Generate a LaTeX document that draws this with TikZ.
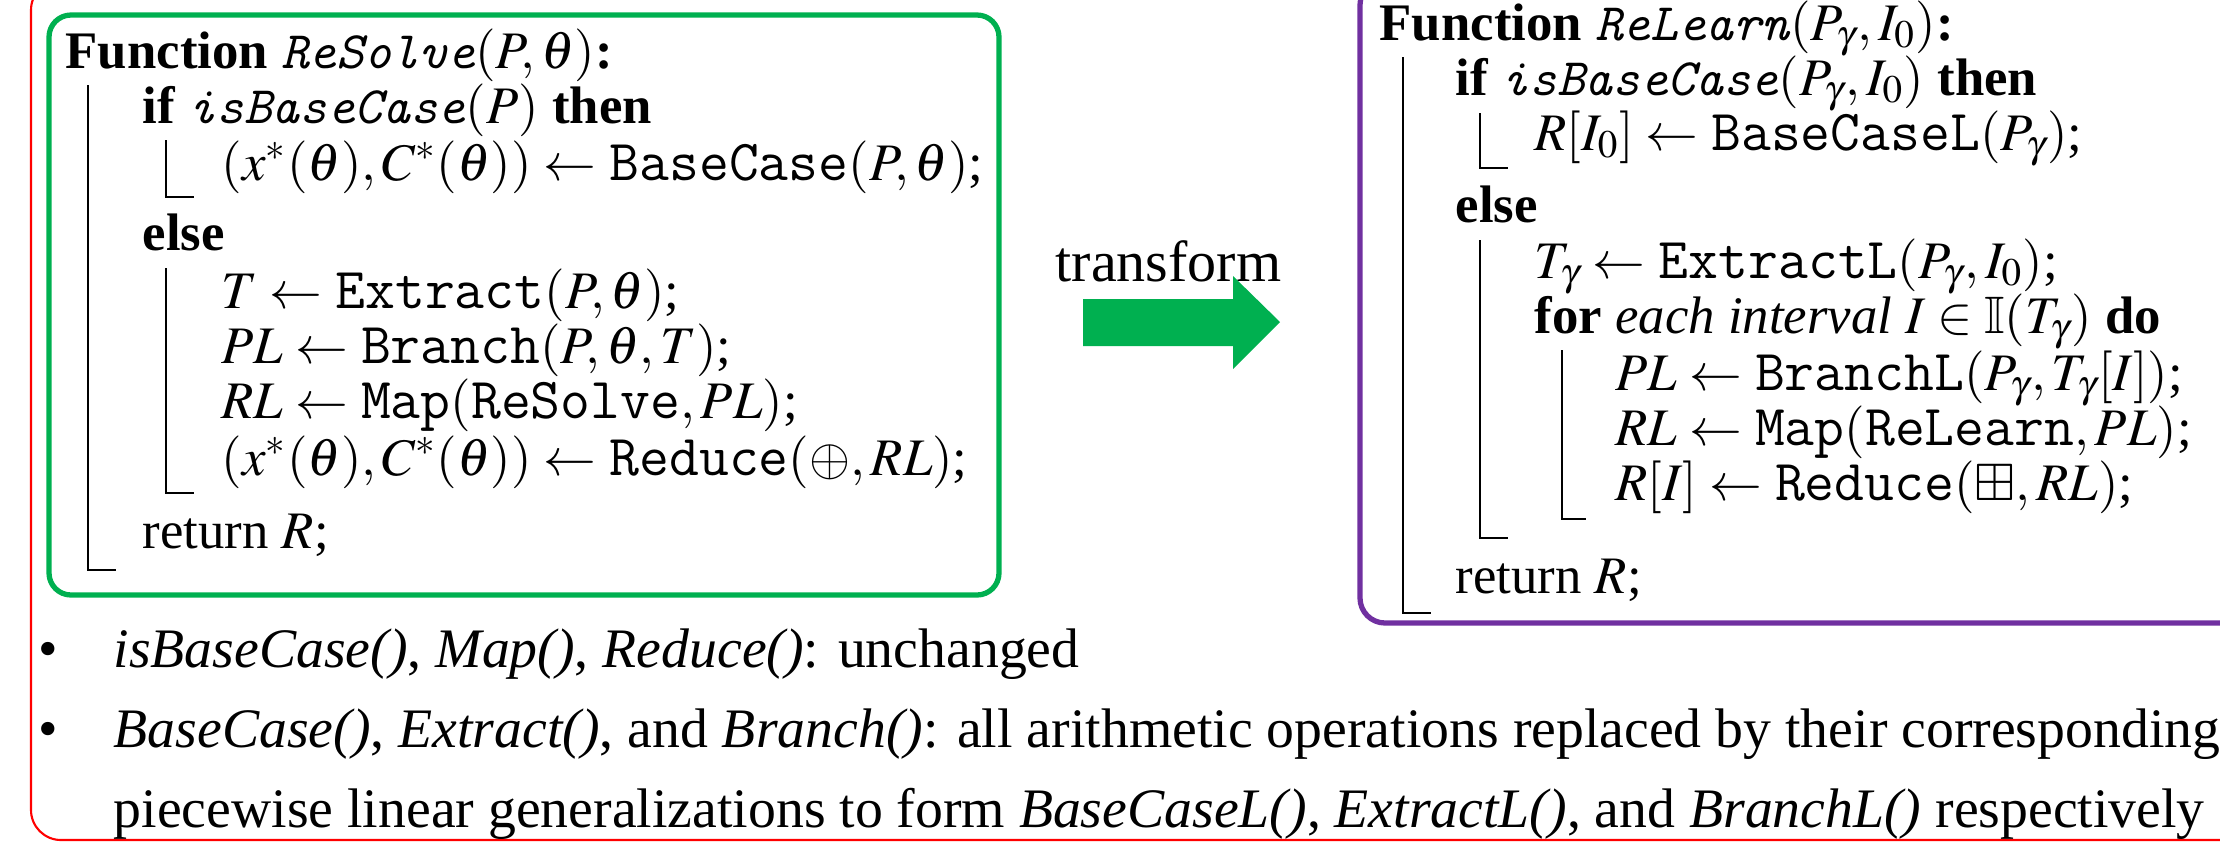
\documentclass[tikz,border=0pt]{standalone}
\usepackage{amssymb}
\usepackage{mathptmx}
\usepackage{fontspec}
\setmainfont{Liberation Serif}
\usetikzlibrary{calc}
\definecolor{pptgreen}{HTML}{00B050}
\definecolor{pptpurple}{HTML}{7030A0}
\tikzset{
         algline/.style={anchor=base west,inner sep=0pt,text height=10pt,text depth=3pt,font=\fontsize{15}{18}\selectfont},
         bulline/.style={anchor=base west,inner sep=0pt,font=\fontsize{15.85}{19}\selectfont},
         blockbar/.style={draw=black,line width=0.6pt}
        }
\newcommand{\kw}[1]{\textbf{#1}}
\newcommand{\fn}[1]{{\fontsize{16.5}{18}\selectfont\texttt{#1}}}
\newcommand{\fni}[1]{\texttt{\itshape #1}}

\begin{document}
\begin{tikzpicture}[x=0.01cm,y=-0.01cm]
\useasboundingbox (0,0) rectangle (2220,844);
%frames
\draw[red,line width=0.6pt,rounded corners=0.3cm](31,-20)rectangle(2280,840);
\draw[pptgreen,line width=1.5pt,rounded corners=0.22cm](49,15)rectangle(999,595);
\draw[pptpurple,line width=1.5pt,rounded corners=0.25cm](1360,-20)rectangle(2280,623);
%ReSolve
\node[algline] (rsHead) at (65,68) {\kw{Function} \fni{ReSolve}$(P,\theta)$\kw{:}};
\node[algline] (rsIf) at (142,123) {\kw{if} \fni{isBaseCase}$(P)$ \kw{then}};
\node[algline] (rsBase) at (221,180) {$(x^*(\theta),C^*(\theta))\leftarrow$ \fn{BaseCase}$(P,\theta)$;};
\node[algline] (rsElse) at (142,250) {\kw{else}};
\node[algline] (rsExt) at (221,308) {$T\leftarrow$ \fn{Extract}$(P,\theta)$;};
\node[algline] (rsBr) at (221,363) {$PL\leftarrow$ \fn{Branch}$(P,\theta,T)$;};
\node[algline] (rsMap) at (221,418) {$RL\leftarrow$ \fn{Map}$($\fn{ReSolve}$,PL)$;};
\node[algline] (rsRed) at (221,475) {$(x^*(\theta),C^*(\theta))\leftarrow$ \fn{Reduce}$(\oplus,RL)$;};
\node[algline] (rsRet) at (142,548) {return $R$;};
\draw[blockbar](88,85)--(88,570)--(116,570);
\draw[blockbar](166,140)--(166,197)--(194,197);
\draw[blockbar](166,268)--(166,493)--(194,493);
%transform
\node[anchor=base west,inner sep=0pt,font=\fontsize{16.5}{19}\selectfont] (trans) at (1055,281) {transform};
\fill[pptgreen](1083,299)--(1233,299)--(1233,276)--(1280,322)--(1233,369)--(1233,346)--(1083,346)--cycle;
%ReLearn
\node[algline] (rlHead) at (1379,40) {\kw{Function} \fni{ReLearn}$(P_\gamma,I_0)$\kw{:}};
\node[algline] (rlIf) at (1455,95) {\kw{if} \fni{isBaseCase}$(P_\gamma,I_0)$ \kw{then}};
\node[algline] (rlBase) at (1534,150) {$R[I_0]\leftarrow$ \fn{BaseCaseL}$(P_\gamma)$;};
\node[algline] (rlElse) at (1455,222) {\kw{else}};
\node[algline] (rlExt) at (1534,278) {$T_\gamma\leftarrow$ \fn{ExtractL}$(P_\gamma,I_0)$;};
\node[algline] (rlFor) at (1534,333) {\kw{for} \textit{each interval} $I\in\mathbb{I}(T_\gamma)$ \kw{do}};
\node[algline] (rlBr) at (1615,390) {$PL\leftarrow$ \fn{BranchL}$(P_\gamma,T_\gamma[I])$;};
\node[algline] (rlMap) at (1615,445) {$RL\leftarrow$ \fn{Map}$($\fn{ReLearn}$,PL)$;};
\node[algline] (rlRed) at (1615,500) {$R[I]\leftarrow$ \fn{Reduce}$(\boxplus,RL)$;};
\node[algline] (rlRet) at (1455,593) {return $R$;};
\draw[blockbar](1403,57)--(1403,613)--(1431,613);
\draw[blockbar](1480,113)--(1480,168)--(1508,168);
\draw[blockbar](1480,240)--(1480,538)--(1508,538);
\draw[blockbar](1562,350)--(1562,519)--(1586,519);
%notes
\node[bulline] (dotA) at (38,667) {•};
\node[bulline] (noteA) at (113,667) {\textit{isBaseCase()}, \textit{Map()}, \textit{Reduce()}: unchanged};
\node[bulline] (dotB) at (38,747) {•};
\node[bulline] (noteB) at (113,747) {\textit{BaseCase()}, \textit{Extract()}, and \textit{Branch()}: all arithmetic operations replaced by their corresponding};
\node[bulline] (noteC) at (113,827) {piecewise linear generalizations to form \textit{BaseCaseL()}, \textit{ExtractL()}, and \textit{BranchL()} respectively};
\end{tikzpicture}
\end{document}
